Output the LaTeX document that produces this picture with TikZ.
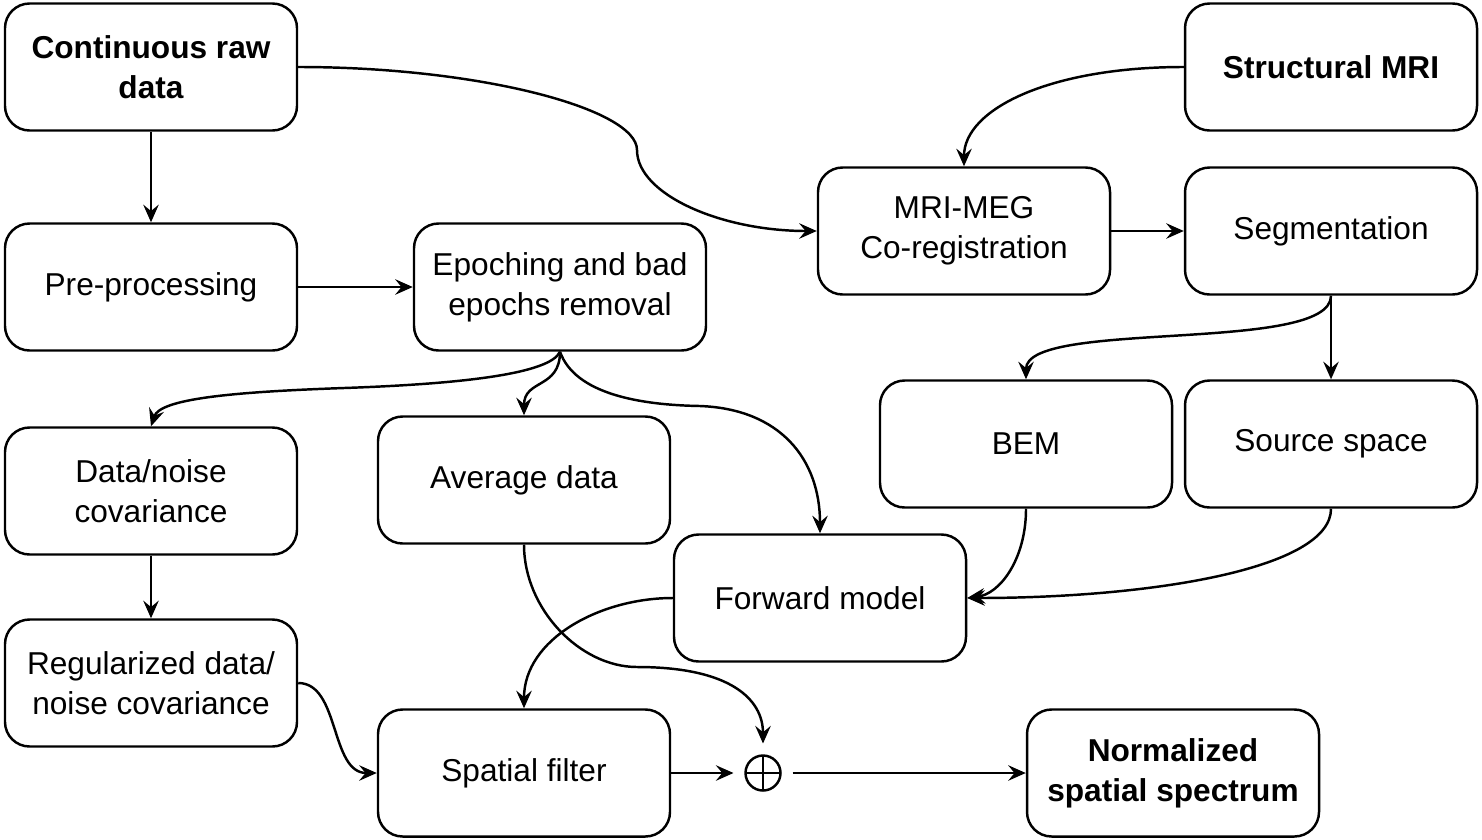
\documentclass[tikz,border=0pt]{standalone}
\usepackage{fontspec}
\setmainfont{Liberation Sans}
\usetikzlibrary{arrows.meta, positioning}

\begin{document}
\begin{tikzpicture}[node distance=2.2cm, font=\fontsize{9}{11.4}\selectfont]
        % --- styles ---
        \tikzstyle{block} = [
            rectangle,
            rounded corners=7pt,
            minimum width=2.92cm,
            minimum height=1.27cm,
            align=center,
            draw=black,
            line width=0.7pt
        ]
        \tikzstyle{keyblock} = [block, font=\fontsize{9}{11.4}\selectfont\bfseries]
        \tikzstyle{adder} = [
            circle,
            draw=black,
            line width=0.7pt,
            minimum size=0.35cm,
            inner sep=0pt,
            outer sep=0.12cm,
            path picture={\draw[line width=0.7pt]
                (path picture bounding box.north) -- (path picture bounding box.south)
                (path picture bounding box.west) -- (path picture bounding box.east);}
        ]
        \tikzstyle{arrow} = [line width=0.7pt, -{Stealth[length=5pt, width=4.4pt, inset=1.8pt]}]

        \useasboundingbox (0,0) rectangle (14.82,8.39);

        % --- nodes (MEG side) ---
        \node (raw) [keyblock] at (1.51,7.72) {Continuous raw\\data};
        \node (pre) [block, below of=raw] {Pre-processing};
        \node (epoch) [block, right of=pre, node distance=4.09cm] {Epoching and bad\\epochs removal};
        \node (cov) [block] at (1.51,3.48) {Data/noise\\covariance};
        \node (reg) [block, below of=cov, node distance=1.92cm] {Regularized data/\\noise covariance};
        \node (avg) [block] at (5.24,3.59) {Average data};

        % --- nodes (MRI side) ---
        \node (mri) [keyblock] at (13.31,7.72) {Structural MRI};
        \node (coreg) [block] at (9.64,6.08) {MRI-MEG\\Co-registration};
        \node (seg) [block] at (13.31,6.08) {Segmentation};
        \node (bem) [block] at (10.26,3.95) {BEM};
        \node (src) [block] at (13.31,3.95) {Source space};
        \node (fwd) [block] at (8.20,2.41) {Forward model};

        % --- nodes (output) ---
        \node (sf) [block] at (5.24,0.66) {Spatial filter};
        \node (plus) [adder] at (7.63,0.66) {};
        \node (norm) [keyblock] at (11.73,0.66) {Normalized\\spatial spectrum};

        % --- connections ---
        \draw [arrow] (raw) -- (pre);
        \draw [arrow] (pre) -- (epoch);
        \draw [arrow] (raw.east) .. controls (4.8,7.72) and (6.37,7.3) .. (6.37,6.89)
            .. controls (6.37,6.45) and (7.2,6.08) .. (coreg.west);
        \draw [arrow] (mri.west) .. controls (10.5,7.72) and (9.64,7.3) .. (coreg.north);
        \draw [arrow] (coreg) -- (seg);
        \draw [arrow] (seg.south) .. controls (13.31,4.85) and (10.26,5.2) .. (bem.north);
        \draw [arrow] (seg) -- (src);
        \draw [arrow] (bem.south) .. controls (10.26,2.8) and (10.0,2.45) .. (fwd.east);
        \draw [arrow] (src.south) .. controls (13.31,2.7) and (11.5,2.41) .. (fwd.east);
        \draw [arrow] (epoch.south) .. controls (5.5,4.65) and (4.6,4.55) .. (3.44,4.51)
            .. controls (2.3,4.47) and (1.6,4.4) .. (cov.north);
        \draw [arrow] (epoch.south) .. controls (5.6,4.5) and (5.24,4.6) .. (avg.north);
        \draw [arrow] (epoch.south) .. controls (5.75,4.45) and (6.4,4.34) .. (7.0,4.33)
            .. controls (7.8,4.3) and (8.2,3.8) .. (fwd.north);
        \draw [arrow] (cov) -- (reg);
        \draw [arrow] (avg.south) .. controls (5.24,2.3) and (5.8,1.72) .. (6.37,1.72)
            .. controls (7.3,1.72) and (7.63,1.4) .. (plus.north);
        \draw [arrow] (fwd.west) .. controls (6.0,2.41) and (5.24,2.0) .. (sf.north);
        \draw [arrow] (reg.east) .. controls (3.4,1.56) and (3.3,0.66) .. (sf.west);
        \draw [arrow] (sf) -- (plus);
        \draw [arrow] (plus) -- (norm);
    \end{tikzpicture}
\end{document}
